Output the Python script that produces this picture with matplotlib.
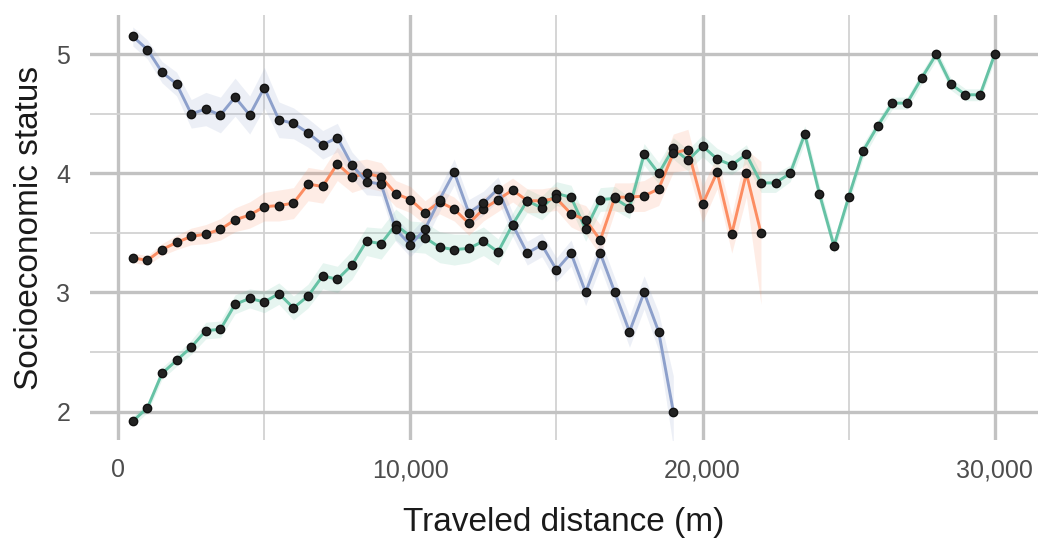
import numpy as np
import matplotlib
matplotlib.use("Agg")
import matplotlib.pyplot as plt
from matplotlib.ticker import FuncFormatter, MultipleLocator

# ---------------- data ----------------
dist_blue = [500 * (i + 1) for i in range(38)]     # 500 .. 19,000 m
ses_blue = [5.15, 5.04, 4.85, 4.75, 4.50, 4.54, 4.49, 4.64, 4.49, 4.72,
            4.45, 4.42, 4.34, 4.24, 4.30, 4.07, 3.93, 3.91, 3.53, 3.40,
            3.53, 3.78, 4.01, 3.67, 3.75, 3.87, 3.57, 3.33, 3.40, 3.19,
            3.33, 3.00, 3.33, 3.00, 2.67, 3.00, 2.67, 2.00]
se_blue = [0.08, 0.08, 0.09, 0.10, 0.12, 0.14, 0.15, 0.16, 0.16, 0.17,
           0.15, 0.13, 0.12, 0.12, 0.12, 0.11, 0.11, 0.10, 0.10, 0.10,
           0.10, 0.10, 0.11, 0.11, 0.10, 0.10, 0.10, 0.10, 0.10, 0.10,
           0.11, 0.11, 0.12, 0.12, 0.13, 0.14, 0.16, 0.30]

dist_orange = [500 * (i + 1) for i in range(44)]   # 500 .. 22,000 m
ses_orange = [3.29, 3.27, 3.36, 3.42, 3.47, 3.49, 3.53, 3.61, 3.65, 3.72,
              3.73, 3.75, 3.91, 3.89, 4.08, 3.97, 4.00, 3.97, 3.83, 3.78,
              3.67, 3.76, 3.70, 3.58, 3.70, 3.78, 3.86, 3.77, 3.77, 3.79,
              3.66, 3.61, 3.44, 3.80, 3.80, 3.81, 3.87, 4.17, 4.20, 3.74,
              4.01, 3.49, 4.00, 3.50]
se_orange = [0.04, 0.04, 0.05, 0.06, 0.07, 0.08, 0.09, 0.10, 0.11, 0.12,
             0.13, 0.13, 0.14, 0.14, 0.14, 0.13, 0.12, 0.12, 0.11, 0.11,
             0.10, 0.10, 0.10, 0.10, 0.10, 0.10, 0.10, 0.10, 0.10, 0.10,
             0.11, 0.12, 0.13, 0.12, 0.12, 0.13, 0.14, 0.16, 0.17, 0.15,
             0.14, 0.16, 0.20, 0.60]

dist_green = [500 * (i + 1) for i in range(60)]    # 500 .. 30,000 m
ses_green = [1.92, 2.03, 2.32, 2.43, 2.54, 2.68, 2.69, 2.90, 2.95, 2.92,
             2.99, 2.87, 2.97, 3.14, 3.11, 3.23, 3.43, 3.41, 3.57, 3.47,
             3.46, 3.38, 3.36, 3.37, 3.43, 3.34, 3.57, 3.77, 3.71, 3.83,
             3.80, 3.53, 3.78, 3.79, 3.71, 4.16, 4.00, 4.21, 4.11, 4.23,
             4.12, 4.07, 4.16, 3.92, 3.92, 4.00, 4.33, 3.83, 3.39, 3.80,
             4.19, 4.40, 4.59, 4.59, 4.80, 5.00, 4.75, 4.66, 4.66, 5.00]
se_green = [0.04, 0.04, 0.05, 0.05, 0.06, 0.07, 0.07, 0.08, 0.08, 0.09,
            0.09, 0.10, 0.10, 0.11, 0.11, 0.12, 0.12, 0.13, 0.13, 0.13,
            0.13, 0.13, 0.13, 0.12, 0.12, 0.11, 0.10, 0.10, 0.10, 0.10,
            0.10, 0.10, 0.10, 0.10, 0.09, 0.09, 0.09, 0.09, 0.09, 0.09,
            0.09, 0.08, 0.08, 0.08, 0.08, 0.07, 0.07, 0.07, 0.06, 0.06,
            0.06, 0.05, 0.05, 0.05, 0.05, 0.05, 0.05, 0.05, 0.05, 0.05]

xticks = [0, 10000, 20000, 30000]
yticks = [2, 3, 4, 5]

series = [
    (dist_green, ses_green, se_green, "#66c2a5"),
    (dist_orange, ses_orange, se_orange, "#fc8d62"),
    (dist_blue, ses_blue, se_blue, "#8da0cb"),
]

plt.rcParams["font.family"] = ["Liberation Sans", "DejaVu Sans"]

fig = plt.figure(figsize=(10.43, 5.55), dpi=100)
ax = fig.add_axes([0.086, 0.207, 0.909, 0.766])

# ribbons first, then lines, then points
for x, y, se, col in series:
    x = np.array(x)
    y = np.array(y)
    se = np.array(se)
    ax.fill_between(x, y - se, y + se, color=col, alpha=0.16, linewidth=0, zorder=2)
for x, y, se, col in series:
    ax.plot(x, y, color=col, linewidth=2.1, zorder=3)
for x, y, se, col in series:
    ax.plot(x, y, linestyle="none", marker="o", markersize=6,
            markerfacecolor="#222222", markeredgecolor="#111111", zorder=4)

ax.set_xlim(-975, 31475)
ax.set_ylim(1.76, 5.33)
ax.set_xticks(xticks)
ax.set_yticks(yticks)
ax.xaxis.set_minor_locator(MultipleLocator(5000))
ax.yaxis.set_minor_locator(MultipleLocator(0.5))
ax.xaxis.set_major_formatter(FuncFormatter(lambda v, p: f"{int(v):,}"))

ax.grid(which="major", color="#c2c2c2", linewidth=2.4, zorder=0)
ax.grid(which="minor", color="#d2d2d2", linewidth=1.3, zorder=0)
ax.set_axisbelow(True)
for s in ax.spines.values():
    s.set_visible(False)
ax.tick_params(which="both", length=0)
ax.tick_params(axis="x", labelsize=18, labelcolor="#4d4d4d", pad=13)
ax.tick_params(axis="y", labelsize=18, labelcolor="#4d4d4d", pad=14)

ax.set_xlabel("Traveled distance (m)", fontsize=24, color="#1a1a1a", labelpad=18)
ax.set_ylabel("Socioeconomic status", fontsize=24, color="#1a1a1a", labelpad=8)

fig.savefig("out.png", dpi=100, facecolor="white")
